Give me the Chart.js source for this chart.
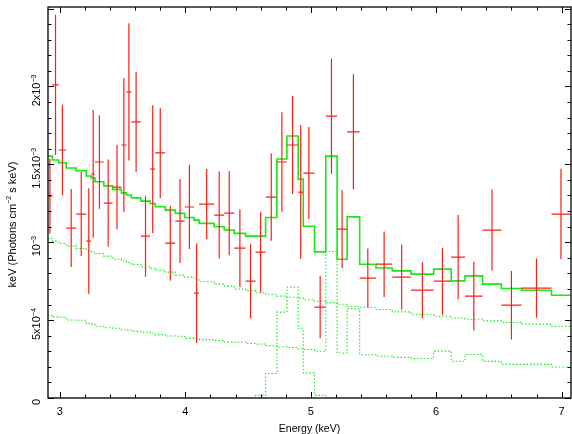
<!DOCTYPE html>
<html>
<head>
<meta charset="utf-8">
<script src="https://cdn.jsdelivr.net/npm/chart.js@4.4.0/dist/chart.umd.min.js"></script>
<style>
html, body { margin: 0; padding: 0; background: #fff; }
</style>
</head>
<body>
<canvas id="specChart" width="572" height="434"></canvas>
<script>
// bin edges in keV (46 bins)
var binEdges = [2.90, 2.94, 2.99, 3.05, 3.13, 3.21, 3.25, 3.28, 3.35, 3.42,
    3.49, 3.53, 3.57, 3.645, 3.72, 3.76, 3.84, 3.92, 3.995, 4.07,
    4.11, 4.23, 4.31, 4.39, 4.48, 4.56, 4.64, 4.73, 4.81, 4.90,
    4.94, 5.03, 5.12, 5.21, 5.29, 5.39, 5.52, 5.65, 5.80, 5.98,
    6.12, 6.23, 6.37, 6.52, 6.68, 6.92, 7.07];

// all y values below are in units of 1e-3
var dataRate = [1.296, 2.010, 1.592, 1.091, 1.181, 1.007, 1.438, 1.515, 1.251, 1.354,
    1.624, 1.965, 1.772, 1.039, 1.469, 1.573, 0.994, 1.136, 1.226, 0.673,
    1.245, 1.174, 1.187, 0.962, 0.750, 0.936, 1.290, 1.515, 1.624, 1.322,
    1.444, 0.583, 1.810, 1.084, 1.708, 0.769, 0.859, 0.776, 0.692, 0.750,
    0.904, 0.654, 1.078, 0.596, 0.705, 1.181];
var dataErr = [0.24, 0.45, 0.29, 0.25, 0.27, 0.34, 0.41, 0.30, 0.28, 0.27,
    0.43, 0.44, 0.32, 0.26, 0.41, 0.29, 0.24, 0.27, 0.27, 0.32,
    0.225, 0.28, 0.27, 0.25, 0.24, 0.26, 0.28, 0.32, 0.315, 0.43,
    0.295, 0.20, 0.37, 0.25, 0.37, 0.19, 0.21, 0.21, 0.18, 0.215,
    0.27, 0.22, 0.26, 0.22, 0.19, 0.29];
var modelTotal = [1.553, 1.528, 1.510, 1.476, 1.459, 1.425, 1.412, 1.388, 1.362, 1.339,
    1.317, 1.303, 1.285, 1.264, 1.249, 1.228, 1.206, 1.185, 1.159, 1.142,
    1.121, 1.099, 1.078, 1.057, 1.039, 1.039, 1.159, 1.534, 1.682, 1.405,
    1.103, 0.938, 1.553, 0.891, 1.163, 0.859, 0.835, 0.816, 0.795, 0.827,
    0.752, 0.784, 0.731, 0.703, 0.692, 0.660];
var compUpper = [1.024, 1.007, 0.992, 0.975, 0.960, 0.946, 0.938, 0.927, 0.911, 0.891,
    0.879, 0.869, 0.857, 0.842, 0.832, 0.821, 0.808, 0.789, 0.776, 0.763,
    0.746, 0.731, 0.718, 0.699, 0.689, 0.676, 0.666, 0.654, 0.647, 0.641,
    0.631, 0.621, 0.612, 0.602, 0.589, 0.583, 0.568, 0.553, 0.538, 0.525,
    0.514, 0.506, 0.495, 0.485, 0.474, 0.461];
var compLower = [0.529, 0.521, 0.518, 0.501, 0.499, 0.479, 0.474, 0.461, 0.451, 0.448,
    0.438, 0.434, 0.428, 0.422, 0.417, 0.407, 0.398, 0.396, 0.383, 0.379,
    0.375, 0.368, 0.360, 0.358, 0.350, 0.346, 0.336, 0.329, 0.324, 0.316,
    0.311, 0.300, 0.940, 0.289, 0.572, 0.278, 0.268, 0.261, 0.254, 0.301,
    0.236, 0.279, 0.235, 0.216, 0.216, 0.199];
var compLine = [0, 0, 0, 0, 0, 0, 0, 0, 0, 0,
    0, 0, 0, 0, 0, 0, 0, 0, 0, 0,
    0, 0, 0, 0, 0, 0.017, 0.157, 0.551, 0.711, 0.448,
    0.161, 0.017, 0, 0, 0, 0, 0, 0, 0, 0,
    0, 0, 0, 0, 0, 0];

var xTickValues = [3, 4, 5, 6, 7];
var yTickValues = [0, 0.5e-3, 1e-3, 1.5e-3, 2e-3];
var yTickBase = ['0', '5x10', '10', '1.5x10', '2x10'];
var yTickExp = ['', '\u22124', '\u22123', '\u22123', '\u22123'];

var FONT = '"Liberation Sans", Arial, Helvetica, sans-serif';
var RED = 'rgb(255, 30, 20)';
var GREEN = 'rgb(20, 235, 20)';

function steps(vals) {
    var pts = [];
    for (var i = 0; i < binEdges.length; i++) {
        pts.push({x: binEdges[i], y: vals[Math.min(i, vals.length - 1)] * 1e-3});
    }
    return pts;
}

function crosses() {
    var pts = [];
    for (var i = 0; i < dataRate.length; i++) {
        var lo = binEdges[i], hi = binEdges[i + 1], mid = (lo + hi) / 2;
        var y = dataRate[i] * 1e-3, e = dataErr[i] * 1e-3;
        pts.push({x: lo, y: y}, {x: hi, y: y}, {x: hi, y: null});
        pts.push({x: mid, y: y - e}, {x: mid, y: y + e}, {x: mid, y: null});
    }
    return pts;
}

// draw text with a small raised exponent, rotated to read bottom-to-top
function rotatedSup(ctx, cx, cy, parts, size) {
    ctx.save();
    ctx.translate(cx, cy);
    ctx.rotate(-Math.PI / 2);
    ctx.textBaseline = 'middle';
    ctx.textAlign = 'left';
    var supSize = Math.round(size * 0.65);
    var total = 0;
    parts.forEach(function (p) {
        ctx.font = (p.sup ? supSize : size) + 'px ' + FONT;
        total += ctx.measureText(p.t).width;
    });
    var x = -total / 2;
    parts.forEach(function (p) {
        ctx.font = (p.sup ? supSize : size) + 'px ' + FONT;
        ctx.fillText(p.t, x, p.sup ? -size * 0.3 : 0);
        x += ctx.measureText(p.t).width;
    });
    ctx.restore();
}

var frameTicks = {
    id: 'frameTicks',
    afterDraw: function (chart) {
        var ctx = chart.ctx, a = chart.chartArea;
        var xs = chart.scales.x, ys = chart.scales.y;
        ctx.save();
        ctx.strokeStyle = '#000';
        ctx.lineWidth = 1;
        ctx.beginPath();
        var k, p, len;
        for (k = 0; k <= 20; k++) {
            p = Math.round(xs.getPixelForValue(3 + k * 0.2)) + 0.5;
            len = k % 5 === 0 ? 6 : 3.5;
            ctx.moveTo(p, a.bottom); ctx.lineTo(p, a.bottom - len);
            ctx.moveTo(p, a.top); ctx.lineTo(p, a.top + len);
        }
        for (k = 0; k <= 25; k++) {
            p = Math.round(ys.getPixelForValue(k * 1e-4)) + 0.5;
            len = k % 5 === 0 ? 6 : 3.5;
            ctx.moveTo(a.left, p); ctx.lineTo(a.left + len, p);
            ctx.moveTo(a.right, p); ctx.lineTo(a.right - len, p);
        }
        ctx.stroke();
        ctx.lineWidth = 1.3;
        ctx.strokeRect(a.left, a.top, a.right - a.left, a.bottom - a.top);

        ctx.fillStyle = '#000';
        for (k = 0; k < yTickValues.length; k++) {
            var parts = [{t: yTickBase[k]}];
            if (yTickExp[k]) parts.push({t: yTickExp[k], sup: true});
            rotatedSup(ctx, a.left - 11, ys.getPixelForValue(yTickValues[k]) + 4, parts, 11);
        }
        rotatedSup(ctx, 12.5, (a.top + a.bottom) / 2 + 22, [
            {t: 'keV (Photons cm'}, {t: '\u22122', sup: true}, {t: ' s keV)'}
        ], 11);
        ctx.restore();
    }
};

Chart.defaults.font.family = FONT;
Chart.defaults.color = '#000';

var ctx = document.getElementById('specChart').getContext('2d');
var specChart = new Chart(ctx, {
    type: 'line',
    data: {
        datasets: [{
            label: 'data',
            data: crosses(),
            borderColor: RED,
            borderWidth: 1.2,
            pointRadius: 0,
            spanGaps: false
        }, {
            label: 'model',
            data: steps(modelTotal),
            borderColor: GREEN,
            borderWidth: 1.6,
            pointRadius: 0,
            stepped: true
        }, {
            label: 'continuum 1',
            data: steps(compUpper),
            borderColor: GREEN,
            borderWidth: 1.1,
            borderDash: [1.5, 2],
            pointRadius: 0,
            stepped: true
        }, {
            label: 'continuum 2',
            data: steps(compLower),
            borderColor: GREEN,
            borderWidth: 1.1,
            borderDash: [1.5, 2],
            pointRadius: 0,
            stepped: true
        }, {
            label: 'line',
            data: steps(compLine),
            borderColor: GREEN,
            borderWidth: 1.1,
            borderDash: [1.5, 2],
            pointRadius: 0,
            stepped: true
        }]
    },
    options: {
        responsive: false,
        animation: false,
        layout: {padding: {left: 0, right: 1, top: 7, bottom: 0}},
        plugins: {legend: {display: false}, tooltip: {enabled: false}},
        scales: {
            x: {
                type: 'linear',
                min: 2.905,
                max: 7.075,
                grid: {display: false, drawTicks: false},
                border: {display: false},
                afterFit: function (s) { s.height = 36; },
                afterBuildTicks: function (s) {
                    s.ticks = xTickValues.map(function (v) { return {value: v}; });
                },
                ticks: {padding: 7, font: {size: 11}, color: '#000'},
                title: {
                    display: true,
                    text: 'Energy (keV)',
                    font: {size: 10.5},
                    color: '#000',
                    padding: {top: 0, bottom: -1}
                }
            },
            y: {
                type: 'linear',
                min: 0,
                max: 2.51e-3,
                grid: {display: false, drawTicks: false},
                border: {display: false},
                ticks: {display: false},
                afterFit: function (s) { s.width = 48; }
            }
        }
    },
    plugins: [frameTicks]
});
</script>
</body>
</html>
